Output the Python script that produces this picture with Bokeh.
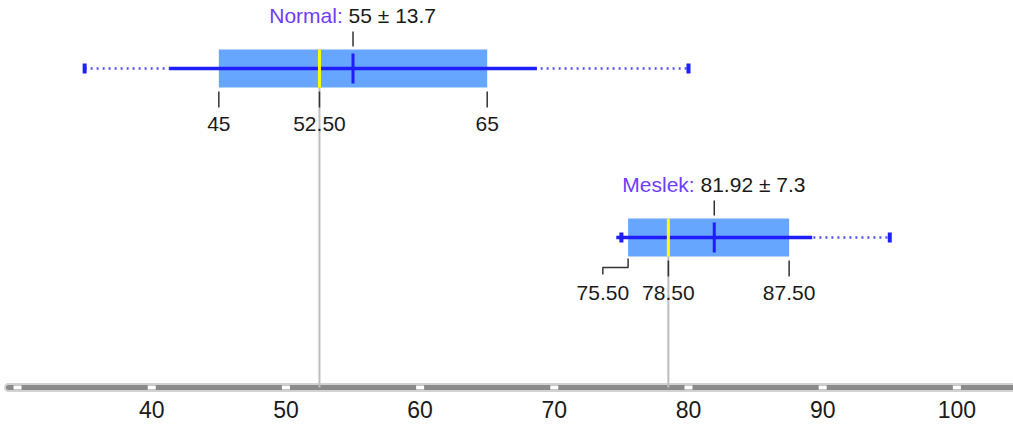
from bokeh.plotting import figure
from bokeh.models import Range1d, LinearAxis, FixedTicker, ColumnDataSource
from bokeh.core.properties import value
from bokeh.embed import file_html
from bokeh.resources import INLINE

# Summary statistics per group
groups = ["Normal", "Meslek"]
minimums = [35, 75]
q1s = [45, 75.5]
medians = [52.5, 78.5]
q3s = [65, 87.5]
maximums = [80, 95]
means = [55, 81.92]
sds = [13.7, 7.3]
axis_ticks = [30, 40, 50, 60, 70, 80, 90, 100]

# Layout
W, H = 1013, 432
X0, X1 = 28.73, 104.22
FRAME_H = 392
PX = W / (X1 - X0)          # screen pixels per data unit
ROW0, ROW_STEP, HALF = 68, 169, 19
AXIS_Y = 387
FONT = "Liberation Sans"
LABEL_PX = 21

NAME_COLOR = "#6e3cff"
TEXT_COLOR = "#1a1a1a"
BOX_COLOR = "#66a6ff"
LINE_COLOR = "#1e1eff"
MEDIAN_COLOR = "#ffff00"

# Approximate advance widths (em) for the label font
_adv = {".": .278, " ": .278, "±": .584, ":": .278, "N": .722, "o": .556,
        "r": .333, "m": .833, "a": .556, "l": .222, "M": .833, "e": .556,
        "s": .5, "k": .5}


def text_width(s, size=LABEL_PX):
    return sum(_adv.get(c, .556) for c in s) * size


def fmt(v):
    return f"{v:.0f}" if float(v).is_integer() else f"{v:.2f}"


centers = [ROW0 + i * ROW_STEP for i in range(len(groups))]

p = figure(width=W, height=H, x_range=Range1d(X0, X1), y_range=Range1d(FRAME_H, 0),
           output_backend="svg", toolbar_location=None,
           x_axis_location=None, y_axis_location=None,
           min_border=0, min_border_bottom=H - FRAME_H)
p.outline_line_color = None
p.background_fill_color = "white"
p.border_fill_color = "white"
p.grid.visible = False

# Axis bar with tick markers
bar = ColumnDataSource(dict(x=[X0 + 8 / PX, X1], y=[AXIS_Y, AXIS_Y]))
p.line("x", "y", source=bar, line_width=9, line_color="#d2d2d2", line_cap="round")
p.line("x", "y", source=bar, line_width=5, line_color="#8a8a8a", line_cap="round")
p.rect(x=axis_ticks, y=[AXIS_Y] * len(axis_ticks), width=8, height=4,
       width_units="screen", height_units="screen",
       fill_color="white", line_color=None)

ax = LinearAxis(ticker=FixedTicker(ticks=axis_ticks),
                major_label_overrides={30: ""},
                axis_line_color=None, major_tick_line_color=None,
                minor_tick_line_color=None, major_tick_in=0, major_tick_out=0,
                major_label_standoff=8,
                major_label_text_font=FONT, major_label_text_font_size="23px",
                major_label_text_color=TEXT_COLOR)
p.add_layout(ax, "below")

# Median guide lines down to the axis
p.segment(x0=medians, x1=medians, y0=[c + HALF for c in centers],
          y1=[AXIS_Y] * len(centers), line_color="#bdbdbd", line_width=2)

# Boxes (Q1..Q3)
p.quad(left=q1s, right=q3s, top=[c - HALF for c in centers],
       bottom=[c + HALF for c in centers], fill_color=BOX_COLOR, line_color=None)

# Min..max dotted range
p.segment(x0=minimums, x1=maximums, y0=centers, y1=centers,
          line_color="#5050ff", line_width=2.5, line_dash="2 4")

# Mean ± SD solid line
lo = [m - s for m, s in zip(means, sds)]
hi = [m + s for m, s in zip(means, sds)]
p.segment(x0=lo, x1=hi, y0=centers, y1=centers, line_color=LINE_COLOR, line_width=3.5)

# Min / max caps
cap_x = minimums + maximums
cap_y = centers + centers
p.segment(x0=cap_x, x1=cap_x, y0=[c - 5 for c in cap_y], y1=[c + 5 for c in cap_y],
          line_color=LINE_COLOR, line_width=4)

# Median and mean markers
p.segment(x0=medians, x1=medians, y0=[c - HALF for c in centers],
          y1=[c + HALF for c in centers], line_color=MEDIAN_COLOR, line_width=3)
p.segment(x0=means, x1=means, y0=[c - 15 for c in centers],
          y1=[c + 15 for c in centers], line_color=LINE_COLOR, line_width=3)

# Group headers: "Name: mean ± sd"
names = [f"{g}:" for g in groups]
vals = [f"{m:g} ± {s:g}" for m, s in zip(means, sds)]
totals = [text_width(n + " " + v) for n, v in zip(names, vals)]
head = ColumnDataSource(dict(
    x=means, y=[c - 53 for c in centers], name=names, val=vals,
    name_off=[-t / 2 for t in totals],
    val_off=[-t / 2 + text_width(n + " ") for n, t in zip(names, totals)]))
p.text("x", "y", text="name", x_offset="name_off", source=head,
       text_font=value(FONT), text_font_size=value(f"{LABEL_PX}px"),
       text_color=NAME_COLOR, text_align="left", text_baseline="middle")
p.text("x", "y", text="val", x_offset="val_off", source=head,
       text_font=value(FONT), text_font_size=value(f"{LABEL_PX}px"),
       text_color=TEXT_COLOR, text_align="left", text_baseline="middle")
p.segment(x0=means, x1=means, y0=[c - 37 for c in centers],
          y1=[c - 22 for c in centers], line_color="#333333", line_width=1.5)

# Quartile / median labels beneath each box
lab_x, lab_y, lab_t = [], [], []
tick_x, tick_y0, tick_y1 = [], [], []
conn_xs, conn_ys = [], []
GAP = 13
for i, c in enumerate(centers):
    vals_q = [q1s[i], medians[i], q3s[i]]
    texts = [fmt(v) for v in vals_q]
    half_w = [text_width(t) / 2 for t in texts]
    pos = [v * PX for v in vals_q]
    shifted = list(pos)
    # push outer labels away from the median label when they collide
    if shifted[0] + half_w[0] > pos[1] - half_w[1] - GAP:
        shifted[0] = pos[1] - half_w[1] - GAP - half_w[0]
    if shifted[2] - half_w[2] < pos[1] + half_w[1] + GAP:
        shifted[2] = pos[1] + half_w[1] + GAP + half_w[2]
    for v, t, sp, op in zip(vals_q, texts, shifted, pos):
        lx = v + (sp - op) / PX
        lab_x.append(lx)
        lab_y.append(c + 55)
        lab_t.append(t)
        if abs(sp - op) < 0.5:
            tick_x.append(v)
            tick_y0.append(c + 23)
            tick_y1.append(c + 39)
        else:
            conn_xs.append([v, v, lx, lx])
            conn_ys.append([c + 21, c + 30, c + 30, c + 37])

p.segment(x0=tick_x, x1=tick_x, y0=tick_y0, y1=tick_y1, line_color="#333333", line_width=1.5)
if conn_xs:
    p.multi_line(xs=conn_xs, ys=conn_ys, line_color="#333333", line_width=1.5)
p.text(x=lab_x, y=lab_y, text=lab_t, text_font=value(FONT),
       text_font_size=value(f"{LABEL_PX}px"), text_color=TEXT_COLOR,
       text_align="center", text_baseline="middle")

open("out.html", "w").write(file_html(p, INLINE))
